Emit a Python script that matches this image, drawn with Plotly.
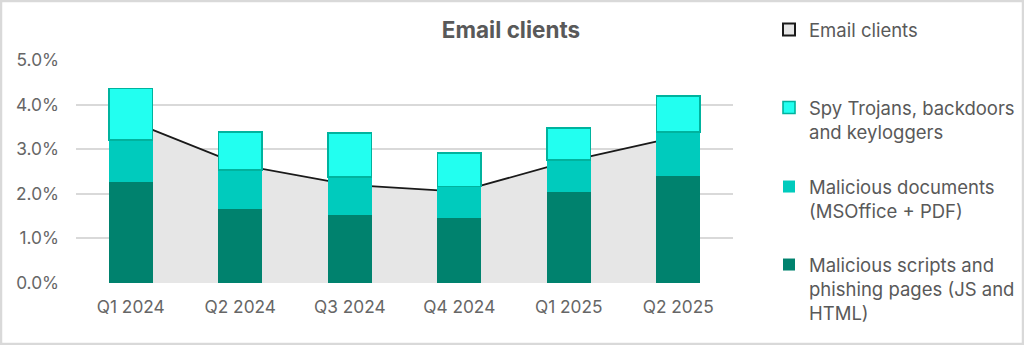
import plotly.graph_objects as go

# Quarterly share of attacks blocked in email clients (%)
quarters = ["Q1 2024", "Q2 2024", "Q3 2024", "Q4 2024", "Q1 2025", "Q2 2025"]
total = [3.63, 2.65, 2.20, 2.05, 2.73, 3.28]
scripts_phishing = [2.26, 1.66, 1.52, 1.45, 2.03, 2.40]
documents = [0.95, 0.87, 0.86, 0.71, 0.73, 0.99]
spy_trojans = [1.15, 0.86, 0.98, 0.75, 0.71, 0.80]

y_ticks = [0, 1, 2, 3, 4, 5]
y_tick_labels = ["0.0%", "1.0%", "2.0%", "3.0%", "4.0%", "5.0%"]

W, H = 1024, 345
ML, MR, MT, MB = 76, 291, 60, 62
PW, PH = W - ML - MR, H - MT - MB

FONT = "Inter"
TEXT = "#595959"


def px_x(px):
    return (px - ML) / PW


def px_y(py):
    return (H - MB - py) / PH


fig = go.Figure()

# Total as a grey area on the base axes, so the bars overlay it
fig.add_trace(go.Scatter(
    x=quarters, y=total, mode="lines", fill="tozeroy",
    fillcolor="#e6e6e6", line=dict(color="#1a1a1a", width=1.8),
    name="Email clients", legendgroup="total", showlegend=False,
    xaxis="x", yaxis="y",
))
# Legend entry for the area
fig.add_trace(go.Bar(
    x=[None], y=[None], name="Email clients", legendgroup="total",
    marker=dict(color="#e6e6e6", line=dict(color="#1a1a1a", width=2)),
    xaxis="x2", yaxis="y2", legend="legend",
))

fig.add_trace(go.Bar(
    x=quarters, y=scripts_phishing,
    name="Malicious scripts and<br>phishing pages (JS and<br>HTML)",
    marker=dict(color="#00826e", line=dict(width=0)),
    xaxis="x2", yaxis="y2", legend="legend4",
))
fig.add_trace(go.Bar(
    x=quarters, y=documents,
    name="Malicious documents<br>(MSOffice + PDF)",
    marker=dict(color="#00cbbd", line=dict(width=0)),
    xaxis="x2", yaxis="y2", legend="legend3",
))
fig.add_trace(go.Bar(
    x=quarters, y=spy_trojans,
    name="Spy Trojans, backdoors<br>and keyloggers",
    marker=dict(color="#22fff0", line=dict(color="#00b39e", width=1.6)),
    xaxis="x2", yaxis="y2", legend="legend2",
))

axis_common = dict(range=[-0.5, 5.5], type="category", showline=False,
                   zeroline=False, fixedrange=True)
yaxis_common = dict(range=[0, 5], showline=False, zeroline=False,
                    fixedrange=True)

legend_common = dict(
    xanchor="left", yanchor="middle", bgcolor="rgba(0,0,0,0)",
    font=dict(family=FONT, size=18.5, color=TEXT), valign="top",
    itemclick=False, itemdoubleclick=False,
)

LEG_X = px_x(769)

fig.update_layout(
    width=W, height=H,
    margin=dict(l=ML, r=MR, t=MT, b=MB, autoexpand=False),
    paper_bgcolor="white", plot_bgcolor="white",
    barmode="stack", bargap=0.6,
    font=dict(family=FONT, color="#666666"),
    title=dict(text="<b>Email clients</b>", x=511 / W, xref="container",
               xanchor="center", y=1 - 30 / H, yref="container",
               yanchor="middle",
               font=dict(family=FONT, size=22.5, color=TEXT)),
    xaxis=dict(**axis_common, showgrid=False,
               tickfont=dict(family=FONT, size=17.3, color="#666666"),
               ticklabelstandoff=12),
    yaxis=dict(**yaxis_common, tickvals=y_ticks, ticktext=y_tick_labels,
               showgrid=True, gridcolor="#d9d9d9", gridwidth=1.5,
               tickfont=dict(family=FONT, size=17.3, color="#666666"),
               ticklabelstandoff=16),
    xaxis2=dict(**axis_common, overlaying="x", showgrid=False,
                showticklabels=False),
    yaxis2=dict(**yaxis_common, overlaying="y", showgrid=False,
                showticklabels=False),
    legend=dict(**legend_common, x=LEG_X, y=px_y(30)),
    legend2=dict(**legend_common, x=LEG_X, y=px_y(120)),
    legend3=dict(**legend_common, x=LEG_X, y=px_y(199)),
    legend4=dict(**legend_common, x=LEG_X, y=px_y(289)),
    shapes=[dict(type="rect", xref="paper", yref="paper",
                 x0=px_x(1), x1=px_x(W - 1), y0=px_y(H - 1), y1=px_y(1),
                 line=dict(color="#d9d9d9", width=2.5), layer="below")],
)

fig.write_html("out.html")
